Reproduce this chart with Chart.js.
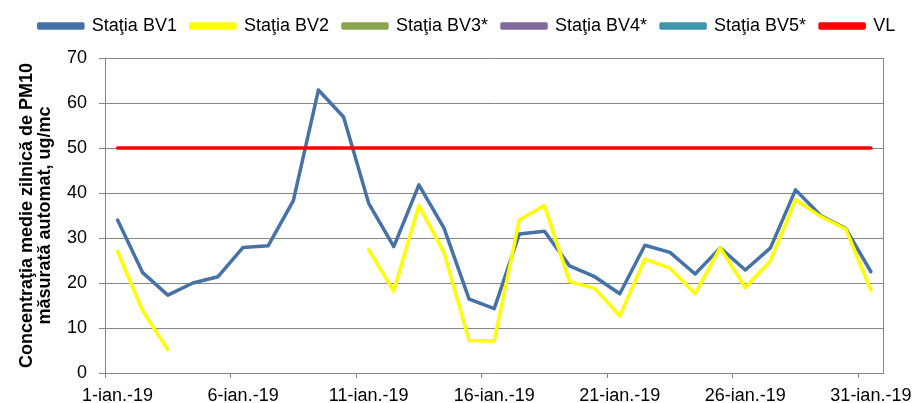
<!DOCTYPE html>
<html>
<head>
<meta charset="utf-8">
<script src="https://cdn.jsdelivr.net/npm/chart.js@4"></script>
<style>
  html, body { margin: 0; padding: 0; background: #fff; }
  #wrap { width: 920px; height: 403px; }
</style>
</head>
<body>
<div id="wrap"><canvas id="pmChart" width="920" height="403"></canvas></div>
<script>
/* ================= DATA ================= */
const days = [];
for (let d = 1; d <= 31; d++) days.push(d + "-ian.-19");

const bv1 = [34.0, 22.3, 17.3, 20.0, 21.4, 27.9, 28.3, 38.3, 62.9, 56.9,
             37.7, 28.1, 41.8, 32.2, 16.4, 14.3, 30.9, 31.5, 23.8, 21.4,
             17.6, 28.4, 26.8, 22.0, 27.8, 22.9, 27.8, 40.7, 35.0, 32.1, 22.5];

const bv2 = [27.0, 13.8, 5.2, null, null, null, null, null, null, null,
             27.4, 18.2, 37.2, 26.8, 7.2, 7.1, 34.0, 37.2, 20.3, 18.8,
             12.7, 25.3, 23.3, 17.6, 27.8, 19.0, 24.9, 38.5, 34.8, 32.0, 18.4];

const bv3 = [];
const bv4 = [];
const bv5 = [];
const vl = days.map(() => 50);

const yTicks = { min: 0, max: 70, step: 10 };

/* ================= STYLE ================= */
const FONT = "'Liberation Sans', Arial, sans-serif";
const GRID = "#868686";

function lineSet(label, data, color, order) {
    return {
        label: label,
        data: data,
        borderColor: color,
        backgroundColor: color,
        borderWidth: 3.5,
        pointRadius: 0,
        tension: 0,
        spanGaps: false,
        borderJoinStyle: "round",
        borderCapStyle: "round",
        order: order
    };
}

/* ================= CHART ================= */
new Chart(document.getElementById("pmChart"), {
    type: "line",
    data: {
        labels: days,
        datasets: [
            lineSet("Staţia BV1", bv1, "#4572A7", 6),
            lineSet("Staţia BV2", bv2, "#FFFF00", 5),
            lineSet("Staţia BV3*", bv3, "#89A54E", 4),
            lineSet("Staţia BV4*", bv4, "#80699B", 3),
            lineSet("Staţia BV5*", bv5, "#3D96AE", 2),
            lineSet("VL", vl, "#FF0000", 1)
        ]
    },
    options: {
        responsive: false,
        animation: false,
        layout: { padding: { left: 14, right: 0, top: 3, bottom: 0 } },
        plugins: {
            tooltip: { enabled: false },
            legend: {
                position: "top",
                reverse: true,
                labels: {
                    boxWidth: 44,
                    boxHeight: 4,
                    padding: 14,
                    color: "#000",
                    font: { family: FONT, size: 18 }
                }
            }
        },
        scales: {
            x: {
                type: "category",
                offset: true,
                grid: {
                    offset: true,
                    drawOnChartArea: false,
                    tickLength: 5,
                    color: ctx => (ctx.index % 5 === 0 && ctx.index < 31) ? GRID : "rgba(0,0,0,0)"
                },
                border: { color: GRID },
                ticks: {
                    autoSkip: false,
                    maxRotation: 0,
                    padding: 8,
                    color: "#000",
                    font: { family: FONT, size: 18, lineHeight: 1.1 },
                    callback: (v, i) => (i % 5 === 0 ? days[i] : "")
                },
                afterFit: s => { s.height = 30; }
            },
            // spatiu gol intre legenda si zona graficului
            xTop: {
                type: "category",
                position: "top",
                grid: { display: false },
                ticks: { display: false },
                border: { display: false },
                afterFit: s => { s.height = 13; }
            },
            y: {
                min: yTicks.min,
                max: yTicks.max,
                grid: { color: GRID, tickLength: 6 },
                border: { color: GRID },
                ticks: {
                    stepSize: yTicks.step,
                    padding: 12,
                    color: "#000",
                    font: { family: FONT, size: 18 }
                },
                title: {
                    display: true,
                    text: ["Concentraţia medie zilnică de PM10", "măsurată automat, ug/mc"],
                    color: "#000",
                    font: { family: FONT, size: 18, weight: "bold", lineHeight: 1.0 },
                    padding: { top: 4, bottom: 1 }
                }
            },
            // axa goala din dreapta: rama + spatiul pana la marginea pozei
            y2: {
                position: "right",
                min: yTicks.min,
                max: yTicks.max,
                grid: { display: false },
                ticks: { display: false },
                border: { display: true, color: GRID },
                afterFit: s => { s.width = 34; }
            }
        }
    }
});
</script>
</body>
</html>
